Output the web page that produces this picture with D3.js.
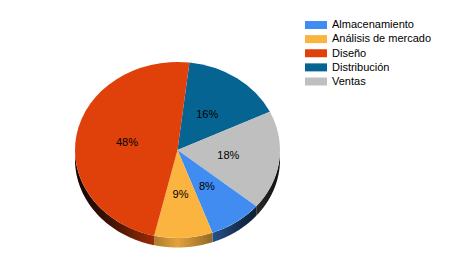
<!DOCTYPE html>
<html><head><meta charset="utf-8">
<script src="https://cdn.jsdelivr.net/npm/d3@7"></script>
<style>html,body{margin:0;padding:0;background:#fff}svg{display:block}</style>
</head><body>
<svg id="c" width="462" height="271"></svg>
<script>
// Data
const categories = ["Almacenamiento", "Análisis de mercado", "Diseño", "Distribución", "Ventas"];
const values = [8.4, 9.2, 48.2, 16.0, 18.2];
const labels = ["8%", "9%", "48%", "16%", "18%"];
const colors = ["#418CF0", "#FCB441", "#E0400A", "#056492", "#BFBFBF"];
const drawOrder = ["Distribución", "Ventas", "Almacenamiento", "Análisis de mercado", "Diseño"];

const svg = d3.select("#c");
const cx = 177.5, cy = 150, rx = 102.5, ry = 88, depth = 9.5;
const startAngle = 6.7 * Math.PI / 180;

const color = d3.scaleOrdinal().domain(categories).range(colors);
const rows = drawOrder.map(n => ({name: n, value: values[categories.indexOf(n)], label: labels[categories.indexOf(n)]}));
const pie = d3.pie().sort(null).value(d => d.value).startAngle(startAngle).endAngle(startAngle + 2 * Math.PI);
const arcs = pie(rows);

const defs = svg.append("defs");
const stopsK = [[0, 0.08], [0.18, 0.3], [0.5, 0.9], [0.82, 0.3], [1, 0.08]];
arcs.forEach((a, i) => {
  const g = defs.append("linearGradient").attr("id", "side" + i)
    .attr("gradientUnits", "userSpaceOnUse")
    .attr("x1", cx - rx).attr("x2", cx + rx).attr("y1", 0).attr("y2", 0);
  stopsK.forEach(([o, k]) => g.append("stop").attr("offset", o)
    .attr("stop-color", d3.interpolateRgb("#000", color(a.data.name))(k)));
});

// Sides
const pt = (t, dy) => [cx + rx * Math.sin(t), cy - ry * Math.cos(t) + dy];
arcs.forEach((a, i) => {
  const lo = Math.PI / 2, hi = 3 * Math.PI / 2;
  const s = Math.max(a.startAngle, lo), e = Math.min(a.endAngle, hi);
  if (e <= s) return;
  const n = 60, top = [], bot = [];
  for (let j = 0; j <= n; j++) {
    const t = s + (e - s) * j / n;
    top.push(pt(t, 0)); bot.push(pt(t, depth));
  }
  const pts = top.concat(bot.reverse());
  svg.append("path").attr("d", d3.line()(pts) + "Z").attr("fill", "url(#side" + i + ")");
});

// Top face
const arc = d3.arc().innerRadius(0).outerRadius(rx);
const gTop = svg.append("g").attr("transform", `translate(${cx},${cy}) scale(1,${ry / rx})`);
gTop.selectAll("path").data(arcs).join("path")
  .attr("d", arc).attr("fill", d => color(d.data.name));

// Labels
arcs.forEach(a => {
  const m = (a.startAngle + a.endAngle) / 2;
  svg.append("text")
    .attr("x", cx + rx * 0.5 * Math.sin(m))
    .attr("y", cy - ry * 0.5 * Math.cos(m))
    .attr("dy", "0.35em").attr("text-anchor", "middle")
    .attr("font-family", "Liberation Sans, Arial, sans-serif").attr("font-size", 11)
    .attr("fill", "#000").text(a.data.label);
});

// Legend
const ly = d3.scalePoint().domain(categories).range([25, 81.5]);
const lg = svg.append("g");
categories.forEach(c => {
  lg.append("rect").attr("x", 305).attr("y", ly(c) - 4).attr("width", 22).attr("height", 8).attr("fill", color(c));
  lg.append("text").attr("x", 332).attr("y", ly(c)).attr("dy", "0.3em")
    .attr("font-family", "Liberation Sans, Arial, sans-serif").attr("font-size", 11)
    .attr("fill", "#000").text(c);
});
</script>
</body></html>
